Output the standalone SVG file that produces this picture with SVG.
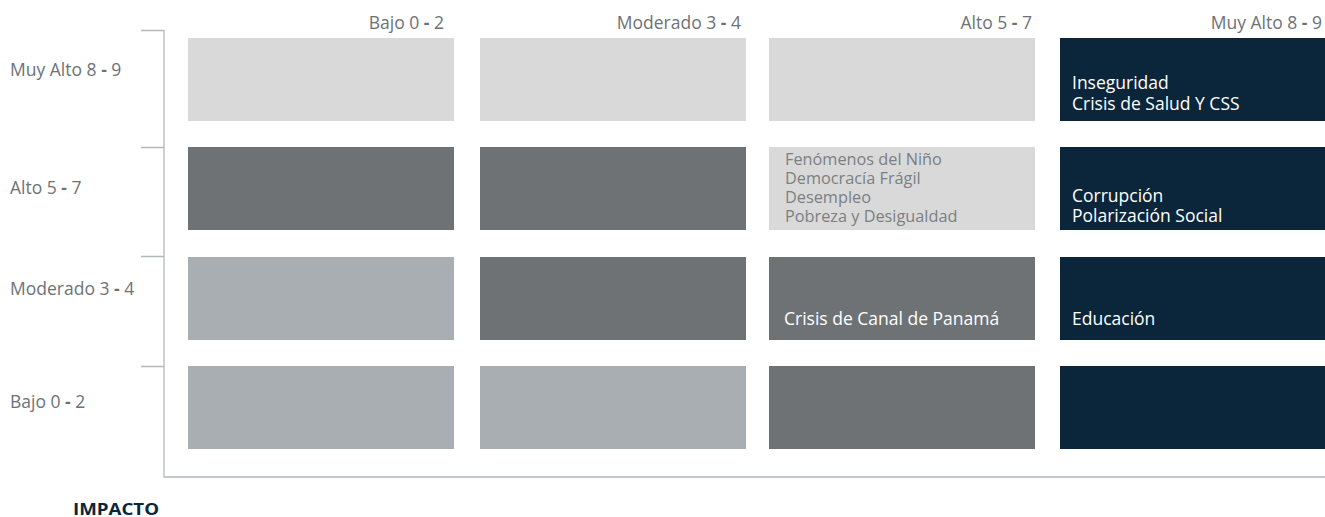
<svg xmlns="http://www.w3.org/2000/svg" width="1325" height="517" viewBox="0 0 1325 517">
<style>
.lbl{font-family:"Open Sans","Liberation Sans",sans-serif;font-size:17.5px;fill:#6d7276}
.dash{font-weight:bold}
.hdr{text-anchor:end}
.c1{fill:#d9d9d9}.c2{fill:#6e7275}.c3{fill:#a8aeb1}.c4{fill:#0b263a}
.ct{font-family:"Open Sans","Liberation Sans",sans-serif;font-size:17.5px;fill:#ffffff}
.cg{font-family:"Open Sans","Liberation Sans",sans-serif;font-size:16.3px;fill:#7b7f83}
.ax{stroke:#b3b8bb;stroke-width:1.3;fill:none}
</style>
<rect width="1325" height="517" fill="#ffffff"/>
<g id="connectors">
<path class="ax" d="M164 30V477H1325"/>
<path class="ax" d="M141 30.5H164M141 147.5H164M141 256.5H164M141 366.5H164"/>
</g>
<g id="headers">
<text class="lbl hdr" x="444" y="29">Bajo 0 <tspan class="dash">-</tspan> 2</text>
<text class="lbl hdr" x="741" y="29">Moderado 3 <tspan class="dash">-</tspan> 4</text>
<text class="lbl hdr" x="1032" y="29">Alto 5 <tspan class="dash">-</tspan> 7</text>
<text class="lbl hdr" x="1322" y="29">Muy Alto 8 <tspan class="dash">-</tspan> 9</text>
<text class="lbl" x="10" y="76">Muy Alto 8 <tspan class="dash">-</tspan> 9</text>
<text class="lbl" x="10" y="194">Alto 5 <tspan class="dash">-</tspan> 7</text>
<text class="lbl" x="10" y="295">Moderado 3 <tspan class="dash">-</tspan> 4</text>
<text class="lbl" x="10" y="408">Bajo 0 <tspan class="dash">-</tspan> 2</text>
</g>
<g id="row1">
<rect class="c1" x="188" y="38" width="266" height="83"/>
<rect class="c1" x="480" y="38" width="266" height="83"/>
<rect class="c1" x="769" y="38" width="266" height="83"/>
<g id="inseguridad"><rect class="c4" x="1060" y="38" width="265" height="83"/>
<text class="ct" x="1072" y="89">Inseguridad</text><text class="ct" x="1072" y="110">Crisis de Salud Y CSS</text></g>
</g>
<g id="row2">
<rect class="c2" x="188" y="147" width="266" height="83"/>
<rect class="c2" x="480" y="147" width="266" height="83"/>
<g id="fenomenos"><rect class="c1" x="769" y="147" width="266" height="83"/>
<text class="cg" x="785" y="165">Fenómenos del Niño</text>
<text class="cg" x="785" y="184">Democracía Frágil</text>
<text class="cg" x="785" y="203">Desempleo</text>
<text class="cg" x="785" y="222">Pobreza y Desigualdad</text></g>
<g id="corrupcion"><rect class="c4" x="1060" y="147" width="265" height="83"/>
<text class="ct" x="1072" y="202">Corrupción</text><text class="ct" x="1072" y="222">Polarización Social</text></g>
</g>
<g id="row3">
<rect class="c3" x="188" y="257" width="266" height="83"/>
<rect class="c2" x="480" y="257" width="266" height="83"/>
<g id="canal"><rect class="c2" x="769" y="257" width="266" height="83"/>
<text class="ct" x="784" y="325">Crisis de Canal de Panamá</text></g>
<g id="educacion"><rect class="c4" x="1060" y="257" width="265" height="83"/>
<text class="ct" x="1072" y="325">Educación</text></g>
</g>
<g id="row4">
<rect class="c3" x="188" y="366" width="266" height="83"/>
<rect class="c3" x="480" y="366" width="266" height="83"/>
<rect class="c2" x="769" y="366" width="266" height="83"/>
<rect class="c4" x="1060" y="366" width="265" height="83"/>
</g>
<g id="impacto">
<text x="73" y="515" font-family="'Open Sans','Liberation Sans',sans-serif" font-weight="700" font-size="16.5" fill="#0b263a" textLength="86" lengthAdjust="spacingAndGlyphs">IMPACTO</text>
</g>
</svg>
